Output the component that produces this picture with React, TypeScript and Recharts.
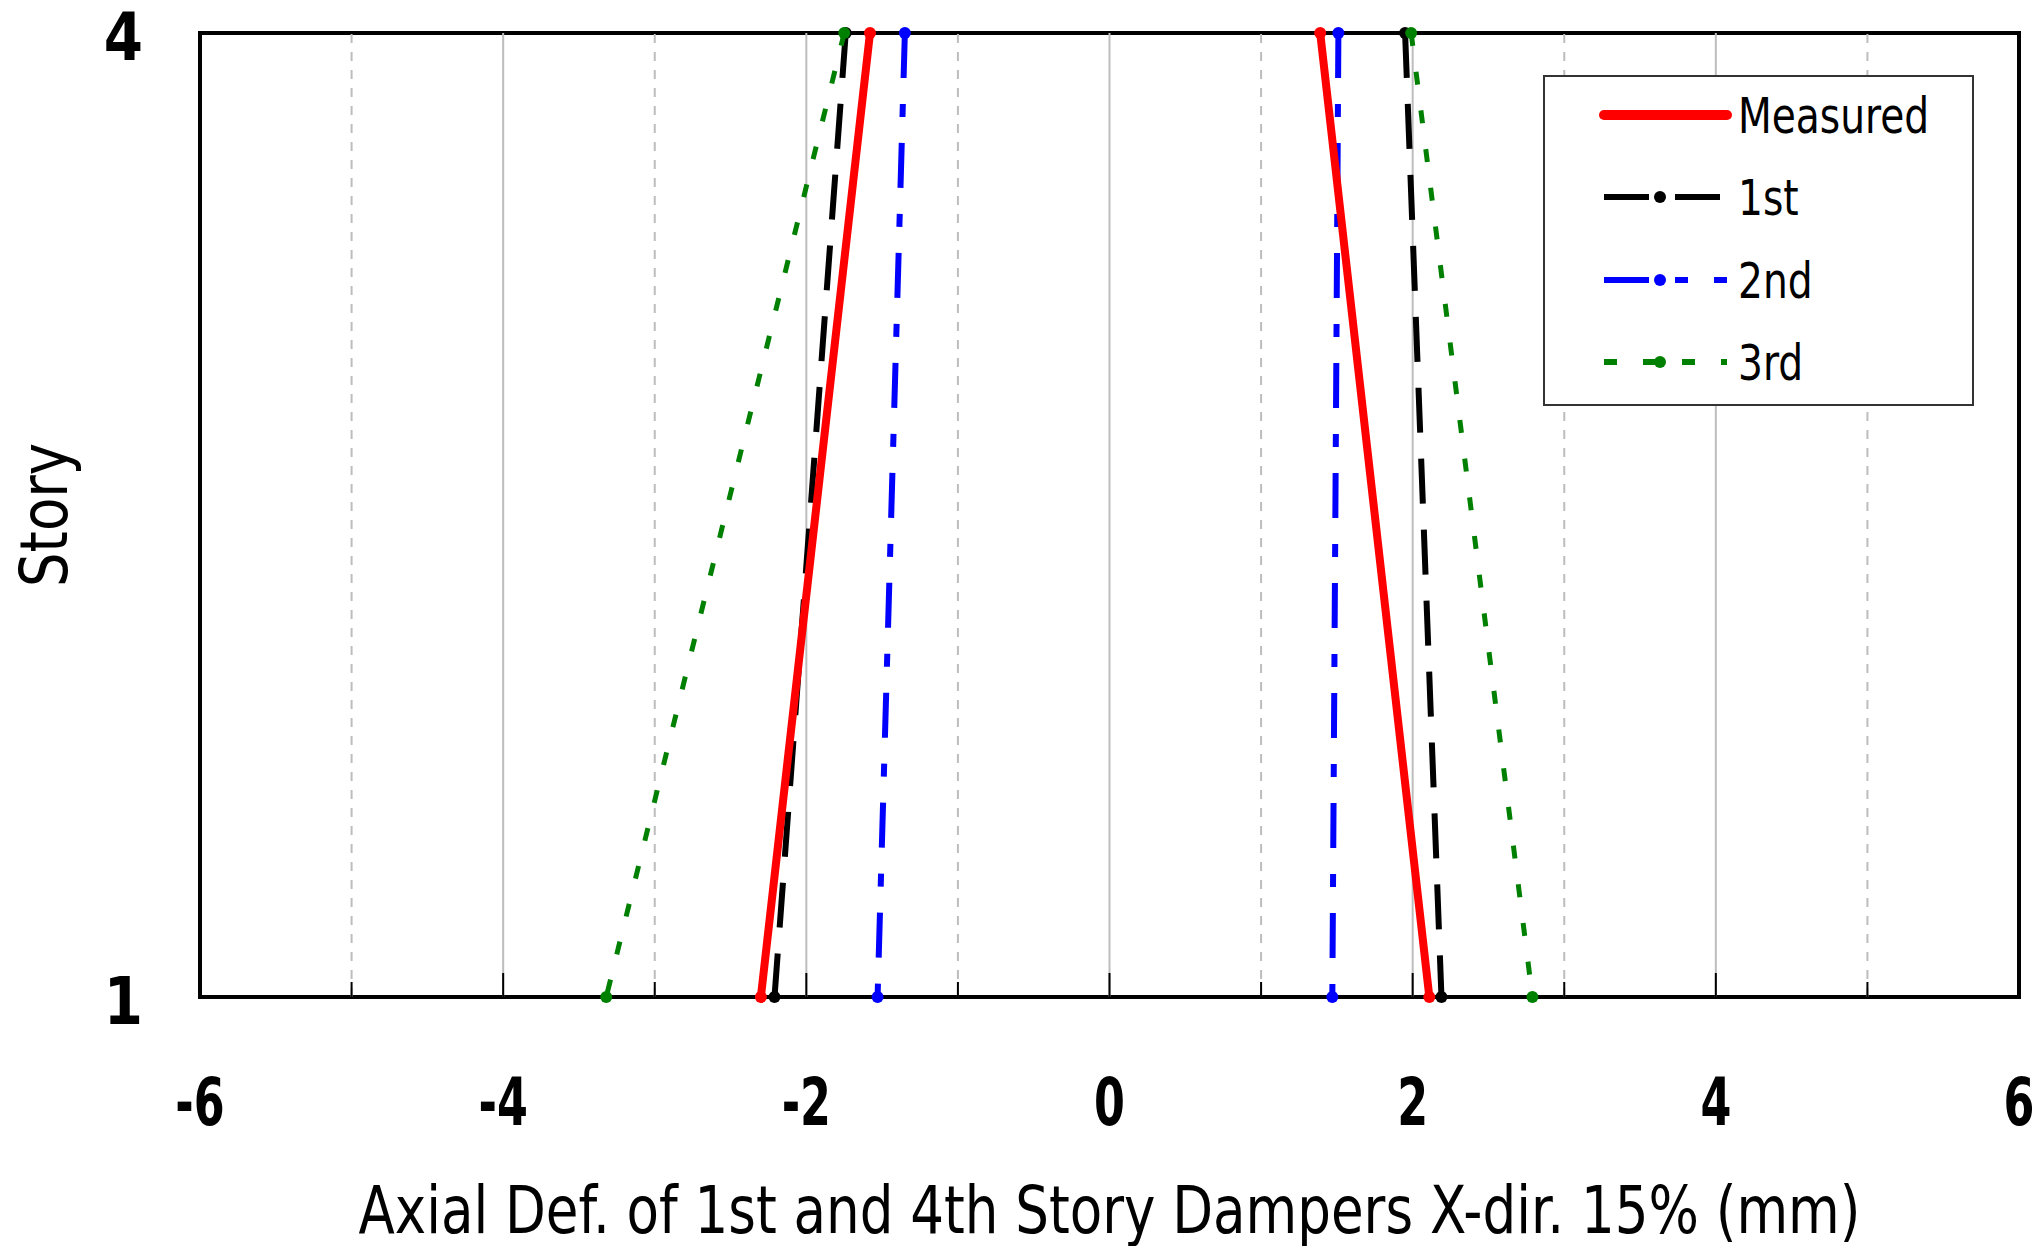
/* Story vs axial damper deformation — measured vs 1st/2nd/3rd analysis */
import {
  LineChart, Line, XAxis, YAxis, ReferenceLine, ReferenceArea, Legend,
} from 'recharts';

const stories = [4, 1];
const xTicks = [-6, -5, -4, -3, -2, -1, 0, 1, 2, 3, 4, 5, 6];
const yTicks = [1, 4];

// deformation (mm) at story 4 and story 1, left and right branches
const measuredLeft = [-1.58, -2.3];
const measuredRight = [1.39, 2.11];
const firstLeft = [-1.74, -2.21];
const firstRight = [1.95, 2.19];
const secondLeft = [-1.35, -1.53];
const secondRight = [1.51, 1.47];
const thirdLeft = [-1.75, -3.32];
const thirdRight = [1.99, 2.79];

const FONT = "'Liberation Sans Narrow', 'Arial Narrow', 'DejaVu Sans Condensed', sans-serif";

const toPoints = (xs: number[]) => xs.map((x, i) => ({ x, y: stories[i] }));

const series = [
  { name: '1st', color: '#000000', dash: '45 26', width: 6, left: firstLeft, right: firstRight, cap: 'butt' },
  { name: '2nd', color: '#0000ff', dash: '45 26 13 26', width: 6, left: secondLeft, right: secondRight, cap: 'butt' },
  { name: '3rd', color: '#008000', dash: '13 26', width: 5, left: thirdLeft, right: thirdRight, cap: 'butt' },
  { name: 'Measured', color: '#ff0000', dash: undefined, width: 8, left: measuredLeft, right: measuredRight, cap: 'round' },
];
const legendOrder = ['Measured', '1st', '2nd', '3rd'];

// condensed text: squeeze horizontally around its anchor point
function NText({ x, y, sx = 0.8, children, ...rest }: any) {
  return (
    <g transform={`translate(${x},${y}) scale(${sx},1)`}>
      <text x={0} y={0} fontFamily={FONT} fill="#000" {...rest}>{children}</text>
    </g>
  );
}

function XTick(props: any) {
  const { x, y, payload } = props;
  const v = payload.value;
  const major = v % 2 === 0;
  return (
    <g>
      <line x1={x} x2={x} y1={y} y2={y - (major ? 24 : 15)} stroke="#000" strokeWidth={2} />
      {major && (
        <NText x={x} y={y + 128} sx={0.76} textAnchor="middle" fontSize={65} fontWeight={700}>
          {v}
        </NText>
      )}
    </g>
  );
}

function YTick(props: any) {
  const { x, y, payload } = props;
  return (
    <NText x={x - 57} y={y + 27} sx={0.95} textAnchor="end" fontSize={66} fontWeight={700}>
      {payload.value}
    </NText>
  );
}

function LegendBox() {
  const rows = [40, 122, 205, 287];
  return (
    <svg width={431} height={331} style={{ display: 'block' }}>
      <rect x={1} y={1} width={429} height={329} fill="#fff" stroke="#333" strokeWidth={2} />
      {legendOrder.map((n, i) => {
        const s = series.find((q) => q.name === n)!;
        const cy = rows[i];
        return (
          <g key={n}>
            <line x1={61} x2={184} y1={cy} y2={cy} stroke={s.color}
              strokeWidth={s.cap === 'round' ? 10 : 6} strokeDasharray={s.dash} strokeLinecap={s.cap as any} />
            <circle cx={117} cy={cy} r={s.cap === 'round' ? 4 : 6} fill={s.color} />
            <NText x={195} y={cy + 18} sx={0.87} fontSize={50}>{n}</NText>
          </g>
        );
      })}
    </svg>
  );
}

export default function App() {
  return (
    <div style={{ position: 'absolute', left: 0, top: 0, background: '#fff' }}>
      <LineChart width={2036} height={1246} margin={{ top: 33, right: 17, bottom: 99, left: 50 }}>
        {xTicks.filter((v) => v > -6 && v < 6).map((v) => (
          <ReferenceLine key={v} x={v} stroke="#bdbdbd" strokeWidth={2}
            strokeDasharray={v % 2 === 0 ? undefined : '9 9'} />
        ))}
        <XAxis type="number" dataKey="x" domain={[-6, 6]} ticks={xTicks}
          height={150} tickSize={0} tickMargin={0} tickLine={false} axisLine={false}
          tick={<XTick />} interval={0}
          label={{
            content: (p: any) => {
              const vb = p.viewBox;
              return (
                <text x={vb.x + vb.width / 2} y={vb.y + 236} textAnchor="middle"
                  textLength={1502} lengthAdjust="spacingAndGlyphs"
                  fontFamily={FONT} fontSize={66} fill="#000">
                  Axial Def. of 1st and 4th Story Dampers X-dir. 15% (mm)
                </text>
              );
            },
          }} />
        <YAxis type="number" dataKey="y" domain={[1, 4]} ticks={yTicks}
          width={150} tickSize={0} tickMargin={0} tickLine={false} axisLine={false}
          tick={<YTick />} interval={0}
          label={{
            content: () => (
              <text x={67} y={515} transform="rotate(-90, 67, 515)" textAnchor="middle"
                textLength={144} lengthAdjust="spacingAndGlyphs"
                fontFamily={FONT} fontSize={66} fill="#000">
                Story
              </text>
            ),
          }} />
        <ReferenceArea x1={-6} x2={6} y1={1} y2={4} fill="none" stroke="#000" strokeWidth={4} />
        {series.flatMap((s) => [
          <Line key={s.name + 'L'} data={toPoints(s.left)} dataKey="y" name={s.name}
            stroke={s.color} strokeWidth={s.width} strokeDasharray={s.dash}
            strokeLinecap={s.cap as any} type="linear"
            dot={{ r: 6, fill: s.color, stroke: 'none', strokeDasharray: 'none' }} activeDot={false}
            isAnimationActive={false} />,
          <Line key={s.name + 'R'} data={toPoints(s.right)} dataKey="y" name={s.name}
            legendType="none"
            stroke={s.color} strokeWidth={s.width} strokeDasharray={s.dash}
            strokeLinecap={s.cap as any} type="linear"
            dot={{ r: 6, fill: s.color, stroke: 'none', strokeDasharray: 'none' }} activeDot={false}
            isAnimationActive={false} />,
        ])}
        <Legend layout="vertical" align="center" verticalAlign="middle"
          content={() => <LegendBox />}
          wrapperStyle={{ position: 'absolute', left: 1543, top: 75, width: 431, height: 331 }} />
      </LineChart>
    </div>
  );
}
